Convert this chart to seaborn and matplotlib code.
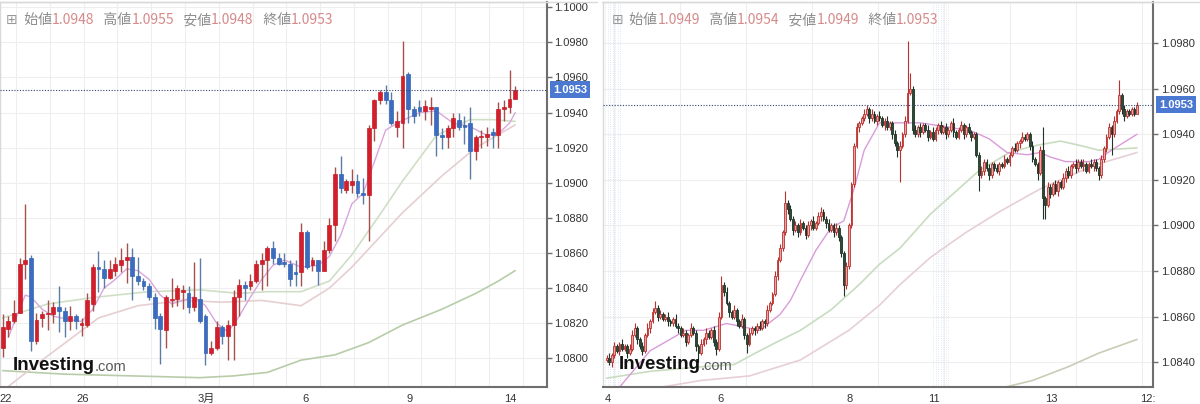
import numpy as np
import pandas as pd
import matplotlib
matplotlib.use("Agg")
import matplotlib.pyplot as plt
import matplotlib.transforms as mtrans
import seaborn as sns

# --- left panel: 4-hour candles (22 Feb - 14 Mar) ---
l_open = [1.0806,1.0817,1.0821,1.0826,1.0854,1.0857,1.0810,1.0823,1.0825,1.0825,
          1.0829,1.0827,1.0821,1.0824,1.0819,1.0819,1.0831,1.0852,1.0851,1.0846,
          1.0850,1.0853,1.0856,1.0858,1.0847,1.0844,1.0841,1.0835,1.0824,1.0816,
          1.0833,1.0834,1.0838,1.0837,1.0829,1.0834,1.0824,1.0803,1.0806,1.0818,
          1.0813,1.0819,1.0835,1.0842,1.0841,1.0844,1.0854,1.0856,1.0863,1.0857,
          1.0855,1.0854,1.0849,1.0849,1.0872,1.0853,1.0856,1.0850,1.0862,1.0876,
          1.0905,1.0896,1.0899,1.0901,1.0894,1.0893,1.0931,1.0947,1.0952,1.0947,
          1.0932,1.0934,1.0962,1.0942,1.0943,1.0941,1.0942,1.0943,1.0927,1.0926,
          1.0931,1.0936,1.0933,1.0934,1.0918,1.0926,1.0926,1.0929,1.0927,1.0942,
          1.0943,1.0948]
l_close = [1.0818,1.0821,1.0826,1.0854,1.0856,1.0810,1.0822,1.0825,1.0826,1.0829,
           1.0827,1.0821,1.0824,1.0821,1.0820,1.0833,1.0852,1.0851,1.0846,1.0851,
           1.0854,1.0856,1.0858,1.0847,1.0844,1.0841,1.0835,1.0823,1.0817,1.0835,
           1.0834,1.0840,1.0839,1.0829,1.0835,1.0821,1.0803,1.0806,1.0818,1.0813,
           1.0819,1.0835,1.0842,1.0840,1.0844,1.0854,1.0856,1.0863,1.0857,1.0854,
           1.0854,1.0845,1.0848,1.0872,1.0852,1.0856,1.0850,1.0862,1.0876,1.0905,
           1.0897,1.0901,1.0901,1.0894,1.0893,1.0931,1.0947,1.0952,1.0947,1.0934,
           1.0935,1.0961,1.0942,1.0938,1.0941,1.0944,1.0943,1.0927,1.0926,1.0931,
           1.0937,1.0932,1.0932,1.0918,1.0926,1.0926,1.0928,1.0927,1.0942,1.0943,
           1.0948,1.0953]
l_high = [1.0825,1.0824,1.0833,1.0857,1.0888,1.0859,1.0826,1.0827,1.0833,1.0832,
          1.0841,1.0829,1.0830,1.0825,1.0823,1.0837,1.0854,1.0861,1.0856,1.0856,
          1.0858,1.0863,1.0866,1.0863,1.0858,1.0846,1.0843,1.0837,1.0826,1.0836,
          1.0846,1.0842,1.0842,1.0841,1.0855,1.0857,1.0825,1.0810,1.0821,1.0819,
          1.0822,1.0839,1.0845,1.0844,1.0848,1.0856,1.0860,1.0864,1.0867,1.0860,
          1.0860,1.0856,1.0856,1.0877,1.0873,1.0858,1.0856,1.0867,1.0880,1.0909,
          1.0915,1.0902,1.0908,1.0905,1.0903,1.0933,1.0948,1.0953,1.0956,1.0952,
          1.0941,1.0981,1.0963,1.0944,1.0947,1.0947,1.0949,1.0943,1.0931,1.0933,
          1.0940,1.0940,1.0938,1.0943,1.0927,1.0930,1.0932,1.0931,1.0946,1.0947,
          1.0964,1.0955]
l_low = [1.0801,1.0812,1.0820,1.0826,1.0845,1.0804,1.0808,1.0818,1.0816,1.0820,
         1.0815,1.0812,1.0816,1.0817,1.0813,1.0818,1.0827,1.0838,1.0840,1.0845,
         1.0847,1.0849,1.0843,1.0833,1.0842,1.0839,1.0833,1.0817,1.0797,1.0806,
         1.0829,1.0830,1.0828,1.0826,1.0827,1.0820,1.0796,1.0802,1.0805,1.0808,
         1.0799,1.0799,1.0824,1.0833,1.0839,1.0843,1.0839,1.0841,1.0854,1.0853,
         1.0852,1.0841,1.0841,1.0841,1.0851,1.0850,1.0842,1.0850,1.0860,1.0867,
         1.0894,1.0894,1.0894,1.0892,1.0888,1.0867,1.0924,1.0945,1.0945,1.0933,
         1.0926,1.0920,1.0934,1.0934,1.0938,1.0936,1.0933,1.0915,1.0919,1.0920,
         1.0926,1.0930,1.0922,1.0902,1.0913,1.0920,1.0921,1.0920,1.0920,1.0935,
         1.0940,1.0948]

# moving averages (candle index, price)
l_ma_short_i = [1,3,4,5,7,9,12,14,16,18,20,22,24,26,28,30,32,34,36,38,40,42,44,46,48,50,
                53,56,58,60,62,64,66,68,70,72,74,77,80,83,86,88,90,91]
l_ma_short_v = [1.0812,1.0828,1.0836,1.0835,1.0828,1.0824,1.0822,1.0821,1.0828,1.0840,
                1.0845,1.0851,1.0850,1.0845,1.0836,1.0831,1.0833,1.0835,1.0830,1.0820,
                1.0815,1.0824,1.0835,1.0845,1.0853,1.0856,1.0852,1.0853,1.0858,1.0870,
                1.0888,1.0894,1.0912,1.0930,1.0934,1.0937,1.0940,1.0941,1.0934,1.0932,
                1.0927,1.0928,1.0934,1.0940]
l_ma_mid_i = [0,8,17,26,35,42,47,53,58,62,67,71,77,83,87,91]
l_ma_mid_v = [1.0823,1.0831,1.0835,1.0838,1.0839,1.0837,1.0838,1.0838,1.0844,1.0859,
              1.0882,1.0901,1.0927,1.0936,1.0936,1.0935]
l_ma_slow_i = [1,7,12,17,24,32,39,46,53,58,62,71,78,84,91]
l_ma_slow_v = [1.0784,1.0799,1.0811,1.0823,1.0830,1.0833,1.0832,1.0833,1.0830,1.0840,
               1.0852,1.0883,1.0904,1.0920,1.0933]
l_ma_long_i = [0,11,23,35,41,47,53,59,65,71,78,84,88,91]
l_ma_long_v = [1.0793,1.0791,1.0790,1.0789,1.0790,1.0792,1.0799,1.0802,1.0809,1.0819,
               1.0828,1.0837,1.0844,1.0850]

l_tick_pos = [0, 14.2, 36.2, 53.7, 72.2, 90.1]
l_tick_lab = ["22", "26", "3月", "6", "9", "14"]
l_head = [("始値", "1.0948"), ("高値", "1.0955"), ("安値", "1.0948"), ("終値", "1.0953")]

# --- right panel: 1-hour candles (4 Mar - 14 Mar), prices in pips above 1.0800 ---
r_first_open = 41
r_close = [42,40,43,47,45,48,46,47,44,46,
           52,55,50,47,45,52,55,58,62,64,
           60,61,59,60,58,57,59,56,55,52,
           53,49,52,55,53,47,44,48,50,53,
           51,54,49,46,60,74,71,66,62,60,
           63,58,56,59,52,48,53,55,54,56,
           55,58,57,63,66,70,78,85,90,97,
           110,107,103,98,100,97,101,99,96,100,
           102,99,101,104,106,103,101,98,100,97,
           99,95,88,74,82,100,118,135,143,145,
           147,149,151,147,149,146,148,147,144,146,
           143,145,140,136,133,135,140,146,158,160,
           142,140,143,141,144,142,139,141,138,142,
           144,141,143,140,142,145,141,139,142,144,
           140,143,141,139,140,131,122,124,128,125,
           122,127,125,124,127,126,129,128,131,134,
           133,136,137,139,138,140,135,129,127,123,
           133,112,109,117,114,118,115,119,117,121,
           124,122,126,127,125,128,126,127,124,127,
           126,128,125,122,129,134,139,143,140,146,
           150,157,151,148,150,149,151,149,153]
r_up_wick = [1,2,1,2,1,1,2,1,1,2, 2,2,1,1,2,1,2,1,2,3, 1,2,1,1,2,1,1,2,1,1,
             2,1,1,2,1,1,1,2,1,2, 1,1,2,1,2,4,1,2,1,1, 2,1,1,2,1,1,2,1,1,1,
             2,1,1,2,1,1,2,1,2,1, 5,1,2,1,2,1,2,1,1,2, 1,2,1,2,2,1,1,2,1,1,
             2,1,1,1,2,1,1,1,2,1, 1,2,2,1,2,1,1,2,1,1, 2,1,1,2,1,2,1,2,23,7,
             1,2,1,2,1,1,2,1,2,1, 1,2,1,2,1,1,2,1,1,2, 1,1,2,1,1,1,1,2,1,1,
             2,1,1,2,1,1,2,1,1,1, 2,1,1,2,1,1,1,2,1,1, 2,10,1,2,1,1,2,1,1,2,
             1,2,1,1,2,1,1,2,1,1, 2,1,1,1,2,1,1,2,1,2, 1,7,1,2,1,1,1,1,1]
r_low_wick = [1,1,2,1,1,2,1,1,2,1, 1,1,2,1,2,1,1,2,1,1, 2,1,1,1,2,1,1,1,2,1,
              1,2,1,1,1,2,4,1,1,2, 1,1,2,3,1,1,2,1,2,1, 1,2,1,1,2,4,1,1,2,1,
              1,1,2,1,1,1,1,2,1,1, 1,2,1,2,1,2,1,1,2,1, 2,1,1,1,2,1,2,1,1,2,
              1,2,2,5,2,1,1,1,1,2, 1,1,1,2,1,1,2,1,1,2, 1,1,2,1,3,14,1,1,1,1,
              2,1,1,2,1,1,2,1,1,1, 2,1,1,2,1,1,2,1,1,1, 2,1,1,2,1,1,7,1,2,1,
              2,1,1,1,2,1,1,1,2,1, 1,1,2,1,1,1,2,1,1,3, 1,9,6,1,2,1,1,2,1,1,
              2,1,1,1,2,1,1,2,1,1, 1,2,1,2,1,1,2,1,9,1, 1,1,2,2,1,1,1,1,0]

r_ma_short_i = [5,17,31,38,47,60,68,72,76,82,88,93,97,101,107,115,123,135,144,150,157,
                165,170,174,180,189,193,198,208]
r_ma_short_v = [1.0829,1.0845,1.0854,1.0854,1.0857,1.0854,1.0861,1.0867,1.0876,1.0889,
                1.0899,1.0902,1.0916,1.0933,1.0945,1.0945,1.0945,1.0943,1.0941,1.0938,
                1.0932,1.0931,1.0932,1.0930,1.0928,1.0928,1.0929,1.0933,1.0940]
r_ma_mid_i = [0,17,37,50,60,67,76,88,99,107,115,127,139,146,158,168,178,186,193,208]
r_ma_mid_v = [1.0833,1.0836,1.0838,1.0839,1.0845,1.0849,1.0854,1.0863,1.0874,1.0883,
              1.0890,1.0905,1.0917,1.0924,1.0932,1.0935,1.0937,1.0935,1.0933,1.0934]
r_ma_slow_i = [21,37,56,76,95,107,115,127,141,154,170,182,193,208]
r_ma_slow_v = [1.0829,1.0832,1.0834,1.0841,1.0854,1.0865,1.0874,1.0886,1.0897,1.0906,
               1.0916,1.0922,1.0927,1.0932]
r_ma_long_i = [156,167,181,193,208]
r_ma_long_v = [1.0829,1.0832,1.0838,1.0844,1.0850]

r_tick_pos = [0.6, 44.7, 95.4, 128.4, 174.5, 212.4]
r_tick_lab = ["4", "6", "8", "11", "13", "12:"]
r_head = [("始値", "1.0949"), ("高値", "1.0954"), ("安値", "1.0949"), ("終値", "1.0953")]

last_price = 1.0953

sns.set_theme(style="white")
plt.rcParams["font.family"] = ["Liberation Sans", "Noto Sans CJK JP", "DejaVu Sans"]
CJK = ["Noto Sans CJK JP", "DejaVu Sans"]


def left_frame():
    return pd.DataFrame({"o": l_open, "h": l_high, "l": l_low, "c": l_close})


def right_frame():
    c = np.array(r_close) / 10000 + 1.08
    o = np.concatenate([[r_first_open / 10000 + 1.08], c[:-1]])
    h = np.maximum(o, c) + np.array(r_up_wick) / 10000
    lo = np.minimum(o, c) - np.array(r_low_wick) / 10000
    return pd.DataFrame({"o": o, "h": h, "l": lo, "c": c})


def candles(ax, df, width, face, edge, wick, min_h, edge_lw, wick_lw):
    up = (df.c >= df.o).values
    x = np.arange(len(df))
    ax.vlines(x, df.l, df.h, colors=np.where(up, wick[0], wick[1]), lw=wick_lw, zorder=3)
    bottom = np.minimum(df.o, df.c)
    height = np.maximum((df.c - df.o).abs(), min_h)
    ax.bar(x, height, width, bottom=bottom, color=np.where(up, face[0], face[1]),
           edgecolor=np.where(up, edge[0], edge[1]), linewidth=edge_lw, zorder=4)


def style_axes(ax, xlim, ylim, yticks, ticks, labels, grid_x):
    ax.set_xlim(*xlim)
    ax.set_ylim(*ylim)
    ax.set_facecolor("white")
    for s in ["left", "top"]:
        ax.spines[s].set_color("#d9d9d9")
        ax.spines[s].set_linewidth(1.0)
    for s in ["right", "bottom"]:
        ax.spines[s].set_color("#6e6e6e")
        ax.spines[s].set_linewidth(1.5)
    ax.yaxis.tick_right()
    ax.set_yticks(yticks)
    ax.set_yticklabels([f"{v:.4f}" for v in yticks])
    ax.set_xticks(ticks)
    ax.set_xticklabels(labels)
    ax.set_xticks(grid_x, minor=True)
    ax.tick_params(axis="y", which="major", direction="out", length=3.5, width=1,
                   color="#6e6e6e", labelsize=8, labelcolor="#333333", pad=2,
                   left=False, right=True)
    ax.tick_params(axis="x", which="major", direction="out", length=3.5, width=1,
                   color="#6e6e6e", labelsize=8, labelcolor="#333333", pad=1.5)
    ax.tick_params(axis="x", which="minor", length=0)
    ax.set_axisbelow(True)
    ax.yaxis.grid(True, color="#eeeeee", lw=0.8)
    ax.xaxis.grid(True, which="minor", color="#eeeeee", lw=0.8)
    ax.xaxis.grid(False, which="major")
    ax.set_xlabel("")
    ax.set_ylabel("")


def header(ax, x, y, pairs):
    t = ax.text(x, y, "⊞", transform=ax.transAxes, fontsize=10, color="#9a9a9a",
                va="center", ha="left", family=["DejaVu Sans"])
    for k, (lab, val) in enumerate(pairs):
        t = ax.annotate(("   " if k else "  ") + lab, xy=(1, 0.5), xycoords=t,
                        va="center", ha="left", fontsize=10, color="#8c8c8c", family=CJK)
        t = ax.annotate(val, xy=(1, 0.5), xycoords=t, va="center", ha="left",
                        fontsize=10, color="#d68a8a", family=CJK)


def logo(ax, x, y):
    t = ax.text(x, y, "Investing", transform=ax.transAxes, fontsize=13.5,
                fontweight="bold", color="#111111", va="baseline", ha="left", zorder=6)
    ax.annotate(".com", xy=(1, 0), xycoords=t, va="bottom", ha="left",
                fontsize=10.5, color="#555555", zorder=6)


def price_tag(ax, xoff):
    tr = mtrans.blended_transform_factory(ax.transAxes, ax.transData)
    ax.axhline(last_price, color="#34446e", lw=0.8, ls=(0, (1, 1.5)), zorder=5)
    ax.text(1 + xoff, last_price, f"{last_price:.4f}", transform=tr, ha="left",
            va="center", color="white", fontsize=8, fontweight="bold", clip_on=False,
            bbox=dict(boxstyle="square,pad=0.3", fc="#4b79d2", ec="none"))


fig = plt.figure(figsize=(12, 4.04), dpi=100)
axL = fig.add_axes([0.0, 0.0413, 0.4556, 0.9537])
axR = fig.add_axes([0.5025, 0.0413, 0.4586, 0.9537])

# ---- left ----
dfl = left_frame()
for xi, yv, col, lw in [(l_ma_long_i, l_ma_long_v, "#b7cda9", 1.2),
                        (l_ma_slow_i, l_ma_slow_v, "#e6cfd0", 1.2),
                        (l_ma_mid_i, l_ma_mid_v, "#cfdfc6", 1.2),
                        (l_ma_short_i, l_ma_short_v, "#d9a6dc", 1.0)]:
    sns.lineplot(x=xi, y=yv, ax=axL, color=col, linewidth=lw, zorder=2, legend=False)
candles(axL, dfl, 0.68, ("#d21f2b", "#3b6cc0"), ("#c41d28", "#3565b5"),
        ("#a4514d", "#5c7ca8"), 0.00005, 0.5, 1.0)
style_axes(axL, (-0.48, 96.6), (1.07835, 1.10030), np.round(np.arange(1.0800, 1.10001, 0.002), 4),
           l_tick_pos, l_tick_lab, np.arange(2.36, 97, 6.0))
# first date label sits on the left edge: anchor it from its left side
first = axL.get_xticklabels()[0]
first.set_horizontalalignment("left")
first.set_transform(first.get_transform() + mtrans.ScaledTranslation(-2 / 72, 0, fig.dpi_scale_trans))
price_tag(axL, 0.0115)
header(axL, 0.011, 0.953, l_head)
logo(axL, 0.0232, 0.045)

# ---- right ----
dfr = right_frame()
for band in [np.arange(-0.6, 5.5, 1.0), np.arange(128.0, 134.5, 1.0)]:
    for v in band:
        axR.axvline(v, color="#d7e3f1", lw=0.6, ls=":", zorder=1)
for xi, yv, col, lw in [(r_ma_long_i, r_ma_long_v, "#c9ccb6", 1.2),
                        (r_ma_slow_i, r_ma_slow_v, "#e7cfd6", 1.2),
                        (r_ma_mid_i, r_ma_mid_v, "#c9dcc0", 1.2),
                        (r_ma_short_i, r_ma_short_v, "#d99bd9", 1.0)]:
    sns.lineplot(x=xi, y=yv, ax=axR, color=col, linewidth=lw, zorder=2, legend=False)
candles(axR, dfr, 0.7, ("#e8a3a3", "#2d4a36"), ("#b8312f", "#1f3326"),
        ("#b8312f", "#1f3326"), 0.00004, 0.6, 0.8)
style_axes(axR, (-1.45, 214.4), (1.08290, 1.09980), np.round(np.arange(1.0840, 1.09801, 0.002), 4),
           r_tick_pos, r_tick_lab, np.arange(2.9, 214, 25.9))
price_tag(axR, 0.0104)
header(axR, 0.0158, 0.953, r_head)
logo(axR, 0.0278, 0.0467)

# panel top borders
for x0, x1 in [(0.0, 597 / 1200), (602 / 1200, 1.0)]:
    fig.add_artist(plt.Line2D([x0, x1], [1 - 2 / 404] * 2, color="#d9d9d9", lw=1.0,
                              transform=fig.transFigure))

fig.savefig("out.png", dpi=100, facecolor="white")
